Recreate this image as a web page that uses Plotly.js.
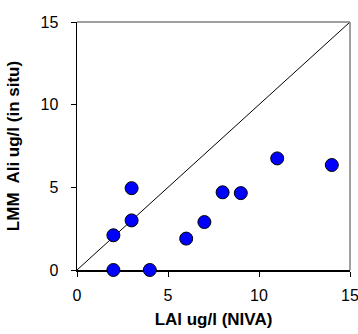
<!DOCTYPE html>
<html>
<head>
<meta charset="utf-8">
<script src="https://cdn.plot.ly/plotly-3.0.1.min.js"></script>
<style>html,body{margin:0;padding:0;background:#fff;}#chart{width:358px;height:334px;}</style>
</head>
<body>
<div id="chart"></div>
<script>
// Data
const laiNiva = [2, 4, 2, 3, 3, 6, 7, 8, 9, 11, 14];
const lmmAliInSitu = [0, 0, 2.1, 3.0, 4.95, 1.9, 2.9, 4.7, 4.65, 6.75, 6.35];
const oneToOneX = [0, 15];
const oneToOneY = [0, 15];
const tickValues = [0, 5, 10, 15];
const xTitle = 'LAl ug/l (NIVA)';
const yTitle = 'LMM  Ali ug/l (in situ)';

const font = 'Arial, "Liberation Sans", sans-serif';

const traces = [
  {
    x: oneToOneX, y: oneToOneY, mode: 'lines', type: 'scatter',
    line: {color: '#000000', width: 1}, hoverinfo: 'skip', showlegend: false
  },
  {
    x: laiNiva, y: lmmAliInSitu, mode: 'markers', type: 'scatter',
    marker: {color: '#0000ff', size: 13, line: {color: '#000000', width: 1}},
    cliponaxis: false, showlegend: false
  }
];

const layout = {
  width: 358, height: 334,
  margin: {l: 77, r: 8, t: 22, b: 64},
  paper_bgcolor: '#ffffff', plot_bgcolor: '#ffffff',
  font: {family: font, size: 16, color: '#000000'},
  xaxis: {
    range: [0, 15], tickvals: tickValues, ticktext: tickValues.map(String),
    showgrid: false, zeroline: false, showline: true, linecolor: '#000000', linewidth: 1.5,
    ticks: 'outside', ticklen: 5, tickcolor: '#000000', ticklabelstandoff: 5,
    ticklabeloverflow: 'allow',
    tickfont: {family: font, size: 16}, layer: 'below traces', fixedrange: true,
    title: {text: xTitle, font: {family: font, size: 17, weight: 'bold'}, standoff: 10}
  },
  yaxis: {
    range: [0, 15], tickvals: tickValues, ticktext: tickValues.map(String),
    showgrid: false, zeroline: false, showline: true, linecolor: '#000000', linewidth: 1.5,
    ticks: 'outside', ticklen: 5, tickcolor: '#000000', ticklabelstandoff: 9,
    ticklabeloverflow: 'allow',
    tickfont: {family: font, size: 16}, layer: 'below traces', fixedrange: true,
    title: {text: yTitle, font: {family: font, size: 17, weight: 'bold'}, standoff: 16}
  },
  shapes: [
    {type: 'line', xref: 'paper', yref: 'paper', x0: 0, x1: 1, y0: 1, y1: 1, line: {color: '#808080', width: 1.5}},
    {type: 'line', xref: 'paper', yref: 'paper', x0: 1, x1: 1, y0: 0, y1: 1, line: {color: '#808080', width: 1.5}}
  ]
};

Plotly.newPlot('chart', traces, layout, {staticPlot: true, displayModeBar: false});
</script>
</body>
</html>
